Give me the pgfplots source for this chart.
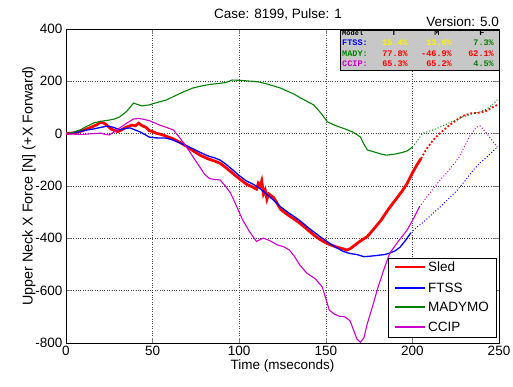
\documentclass[border=0pt]{standalone}
\usepackage{fontspec}
\setmainfont{Liberation Sans}
\newfontfamily\tabfont{Liberation Mono}
\usepackage{pgfplots}
\pgfplotsset{compat=1.18}

\definecolor{mgreen}{rgb}{0,0.5,0}
\definecolor{mmag}{rgb}{0.8,0,0.8}
\definecolor{tabgray}{rgb}{0.78,0.78,0.78}

\begin{document}
\begin{tikzpicture}
\useasboundingbox (-66pt,-43pt) rectangle (447pt,343pt);
\begin{axis}[
	scale only axis,
	width=433pt, height=314pt,
	xmin=0, xmax=250, ymin=-800, ymax=400,
	xtick={0,50,...,250},
	ytick={-800,-600,...,400},
	tick align=inside,
	major tick length=5pt,
	grid=major,
	major grid style={dotted, black!70},
	axis line style={line width=0.8pt},
	tick style={line width=0.6pt},
	font=\fontsize{13.5}{15}\selectfont,
	ticklabel style={font=\fontsize{13.5}{15}\selectfont},
	/pgf/number format/assume math mode=true,
	/pgf/number format/set thousands separator={},
	xlabel={Time (mseconds)},
	ylabel={Upper Neck X Force [N] (+X Forward)},
	xlabel style={yshift=3pt},
	ylabel style={yshift=-7pt, font=\fontsize{14.3}{16}\selectfont},
]
% Sled
\addplot[color=red, line width=2.8pt] coordinates {
(0,0) (3,2) (6,5) (9,10) (12,18) (15,26) (18,35) (20,44) (22,40) (24,30) (26,18) (28,12) (30,8) (32,14) (34,22) (36,28) (38,33) (40,30) (42,40) (44,30) (46,25) (48,12) (50,8) (52,2) (55,-3) (58,-10) (62,-20) (66,-34) (70,-50) (74,-68) (78,-84) (82,-96) (86,-105) (89,-113) (92,-128) (96,-150) (100,-172) (104,-192) (108,-205) (110,-212) (111,-190) (112,-200) (113,-180) (114,-230) (115,-215) (116,-250) (117,-230) (120,-245) (124,-290) (128,-310) (132,-328) (135,-342) (140,-370) (144,-392) (148,-410) (152,-423) (156,-433) (160,-440) (162,-445) (164,-440) (166,-430) (170,-410) (174,-393) (178,-362) (182,-330) (186,-290) (190,-255) (194,-220) (197,-190) (200,-150) (203,-115) (205,-95)
};
% FTSS
\addplot[color=blue, line width=1.3pt] coordinates {
(0,0) (4,3) (8,8) (12,14) (16,18) (20,24) (24,29) (27,25) (31,15) (34,20) (37,22) (40,14) (43,6) (46,-5) (48,-13) (52,-16) (58,-17) (62,-25) (66,-36) (70,-48) (74,-60) (78,-73) (82,-85) (86,-93) (89,-101) (92,-115) (96,-137) (100,-160) (104,-180) (108,-193) (112,-210) (116,-232) (120,-255) (124,-280) (128,-300) (132,-318) (135,-332) (140,-360) (144,-380) (148,-400) (152,-418) (156,-435) (160,-450) (164,-458) (168,-462) (172,-470) (176,-468) (180,-465) (184,-462) (187,-456) (190,-448) (193,-433) (196,-408) (199,-380)
};
% MADYMO
\addplot[color=mgreen, line width=1.1pt] coordinates {
(0,0) (4,5) (8,14) (12,28) (16,41) (20,47) (25,52) (28,56) (31,64) (35,85) (39,117) (42,110) (44,106) (48,110) (52,118) (58,129) (63,145) (68,160) (73,174) (78,182) (83,188) (88,192) (92,195) (96,205) (100,204) (104,202) (108,200) (112,197) (116,190) (120,182) (124,174) (128,162) (132,150) (135,138) (139,124) (143,110) (147,80) (151,45) (156,30) (162,16) (166,5) (170,-13) (172,-40) (174,-62) (178,-70) (182,-78) (185,-82) (190,-78) (194,-72) (197,-66) (200,-51)
};
% CCIP
\addplot[color=mmag, line width=1.1pt] coordinates {
(0,0) (5,-2) (10,-3) (15,0) (20,2) (23,-3) (25,-5) (28,8) (31,22) (35,40) (39,56) (42,58) (44,56) (48,50) (51,42) (54,33) (58,24) (62,14) (65,-10) (68,-36) (71,-65) (74,-95) (77,-125) (80,-155) (83,-172) (86,-175) (89,-177) (92,-200) (95,-227) (98,-270) (102,-330) (106,-375) (110,-412) (112,-405) (114,-399) (118,-410) (122,-425) (126,-433) (129,-445) (132,-470) (135,-502) (139,-533) (144,-555) (148,-586) (150,-630) (152,-674) (155,-690) (158,-698) (161,-700) (164,-715) (166,-750) (168,-785) (170,-797) (172,-780) (174,-725) (177,-660) (180,-590) (184,-510) (187,-456) (192,-410) (197,-368) (201,-320) (204,-280)
};
% dotted continuations
\addplot[color=red, line width=1.8pt, dotted] coordinates {
(205,-95) (208,-60) (212,-24) (216,2) (220,25) (224,45) (229,68) (234,78) (239,80) (243,88) (246,100) (249,110)
};
\addplot[color=blue, line width=1pt, dotted] coordinates {
(199,-380) (203,-355) (206,-340) (211,-310) (216,-280) (221,-248) (226,-215) (231,-175) (235,-140) (239,-112) (243,-89) (246,-70) (249,-51)
};
\addplot[color=mgreen, line width=1pt, dotted] coordinates {
(200,-51) (203,-25) (206,2) (211,12) (216,25) (222,43) (229,64) (234,75) (239,83) (243,95) (246,110) (249,129)
};
\addplot[color=mmag, line width=1pt, dotted] coordinates {
(204,-280) (208,-245) (212,-210) (216,-177) (220,-148) (224,-115) (227,-89) (230,-50) (233,-10) (237,25) (239,30) (241,15) (243,0) (245,-17) (247,-35) (249,-51)
};
\end{axis}
% title texts
\node[anchor=base, font=\fontsize{13.5}{15}\selectfont] at (212pt,324pt) {Case: 8199, Pulse: 1};
\node[anchor=base east, inner sep=0pt, font=\fontsize{13.5}{15}\selectfont] at (433pt,316pt) {Version: 5.0};
% legend
\draw[fill=white, line width=0.6pt] (322pt,6pt) rectangle (430pt,85pt);
\begin{scope}[every node/.style={anchor=west, inner sep=0pt, font=\fontsize{13.5}{15}\selectfont}]
\draw[red, line width=2.8pt] (329pt,76pt) -- (359pt,76pt);
\node at (362pt,76pt) {Sled};
\draw[blue, line width=1.2pt] (329pt,55pt) -- (359pt,55pt);
\node at (362pt,55pt) {FTSS};
\draw[mgreen, line width=1.3pt] (329pt,36pt) -- (359pt,36pt);
\node at (362pt,36pt) {MADYMO};
\draw[mmag, line width=1.2pt] (329pt,16pt) -- (359pt,16pt);
\node at (362pt,16pt) {CCIP};
\end{scope}
% result table
\draw[fill=tabgray, line width=0.6pt] (274pt,273pt) rectangle (433pt,313pt);
\begin{scope}[every node/.style={inner sep=0pt, font=\tabfont\bfseries\fontsize{8.5}{9}\selectfont}]
\node[anchor=base west, font=\tabfont\bfseries\fontsize{7}{8}\selectfont] at (276pt,307pt) {Model};
\node[anchor=base] at (328pt,307pt) {T};
\node[anchor=base] at (371pt,307pt) {M};
\node[anchor=base] at (416pt,307pt) {F};
\node[anchor=base west, text=blue] at (276pt,297pt) {FTSS:};
\node[anchor=base east, text=yellow] at (342pt,297pt) {15.4\%};
\node[anchor=base east, text=yellow] at (386pt,297pt) {13.6\%};
\node[anchor=base east, text=mgreen] at (428pt,297pt) {7.3\%};
\node[anchor=base west, text=mgreen] at (276pt,286pt) {MADY:};
\node[anchor=base east, text=red] at (342pt,286pt) {77.8\%};
\node[anchor=base east, text=red] at (386pt,286pt) {-46.9\%};
\node[anchor=base east, text=red] at (428pt,286pt) {62.1\%};
\node[anchor=base west, text=mmag] at (276pt,276pt) {CCIP:};
\node[anchor=base east, text=red] at (342pt,276pt) {65.3\%};
\node[anchor=base east, text=red] at (386pt,276pt) {65.2\%};
\node[anchor=base east, text=mgreen] at (428pt,276pt) {4.5\%};
\end{scope}
\end{tikzpicture}
\end{document}
